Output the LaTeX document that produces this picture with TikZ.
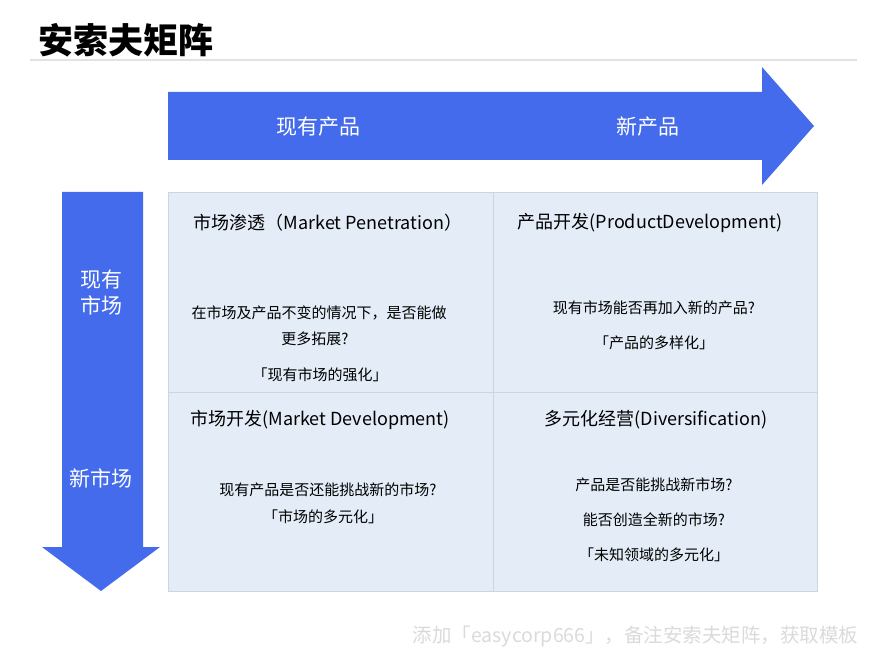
\documentclass[tikz,border=0pt]{standalone}
\usepackage{fontspec}
\setmainfont{Noto Sans CJK SC}
\usepackage{tikz}
\usetikzlibrary{shapes}
\definecolor{arrowblue}{HTML}{436BEB}
\definecolor{cellfill}{HTML}{E4EDF7}
\definecolor{cellline}{HTML}{CDD6E0}
\definecolor{rulegray}{HTML}{E2E2E2}
\definecolor{notegray}{HTML}{DADADA}

\begin{document}
\begin{tikzpicture}[x=1pt,y=-1pt]
      \tikzstyle{cell}=[draw=cellline,fill=cellfill,line width=1pt,inner sep=0pt,anchor=north west,minimum height=200pt]
      \tikzstyle{head}=[font=\fontsize{18}{22}\selectfont]
      \tikzstyle{body}=[font=\fontsize{15}{18}\selectfont]
      \tikzstyle{axis}=[text=white,align=center,font=\fontsize{21}{26}\selectfont]
      \useasboundingbox (0,0) rectangle (889,668);
      \node[anchor=west,font=\bfseries\fontsize{35}{40}\selectfont] (title) at (35,40) {安索夫矩阵};
      \draw[rulegray,line width=2pt] (30,60) -- (857,60);
      % arrows
      \fill[arrowblue] (168,92) -- (762,92) -- (762,67) -- (814,126) -- (762,185) -- (762,160) -- (168,160) -- cycle;
      \fill[arrowblue] (62,192) -- (143,192) -- (143,547) -- (160,547) -- (101,591) -- (42,547) -- (62,547) -- cycle;
      \node[axis] (oldprod) at (318,127) {现有产品};
      \node[axis] (newprod) at (648,127) {新产品};
      \node[axis] (oldmkt) at (101,293) {现有\\市场};
      \node[axis] (newmkt) at (101,478) {新市场};
      % matrix
      \node[cell,minimum width=325pt] (tl) at (168,192) {};
      \node[cell,minimum width=324pt] (tr) at (493,192) {};
      \node[cell,minimum width=325pt,minimum height=199pt] (bl) at (168,392) {};
      \node[cell,minimum width=324pt,minimum height=199pt] (br) at (493,392) {};
      \node[head] (tlhead) at (328,223) {市场渗透（Market Penetration）};
      \node[body] (tlq) at (319,313) {在市场及产品不变的情况下，是否能做};
      \node[body] (tlq2) at (315,339) {更多拓展?};
      \node[body] (tla) at (320,375) {「现有市场的强化」};
      \node[head] (trhead) at (650,223) {产品开发(ProductDevelopment)};
      \node[body] (trq) at (654,308) {现有市场能否再加入新的产品?};
      \node[body] (tra) at (654,343) {「产品的多样化」};
      \node[head] (blhead) at (320,420) {市场开发(Market Development)};
      \node[body] (blq) at (328,490) {现有产品是否还能挑战新的市场?};
      \node[body] (bla) at (323,517) {「市场的多元化」};
      \node[head] (brhead) at (656,420) {多元化经营(Diversification)};
      \node[body] (brq) at (654,485) {产品是否能挑战新市场?};
      \node[body] (brq2) at (654,520) {能否创造全新的市场?};
      \node[body] (bra) at (654,555) {「未知领域的多元化」};
      \node[anchor=east,text=notegray,font=\fontsize{19.5}{24}\selectfont] (note) at (862,637) {添加「easycorp666」，备注安索夫矩阵，获取模板};
\end{tikzpicture}
\end{document}
